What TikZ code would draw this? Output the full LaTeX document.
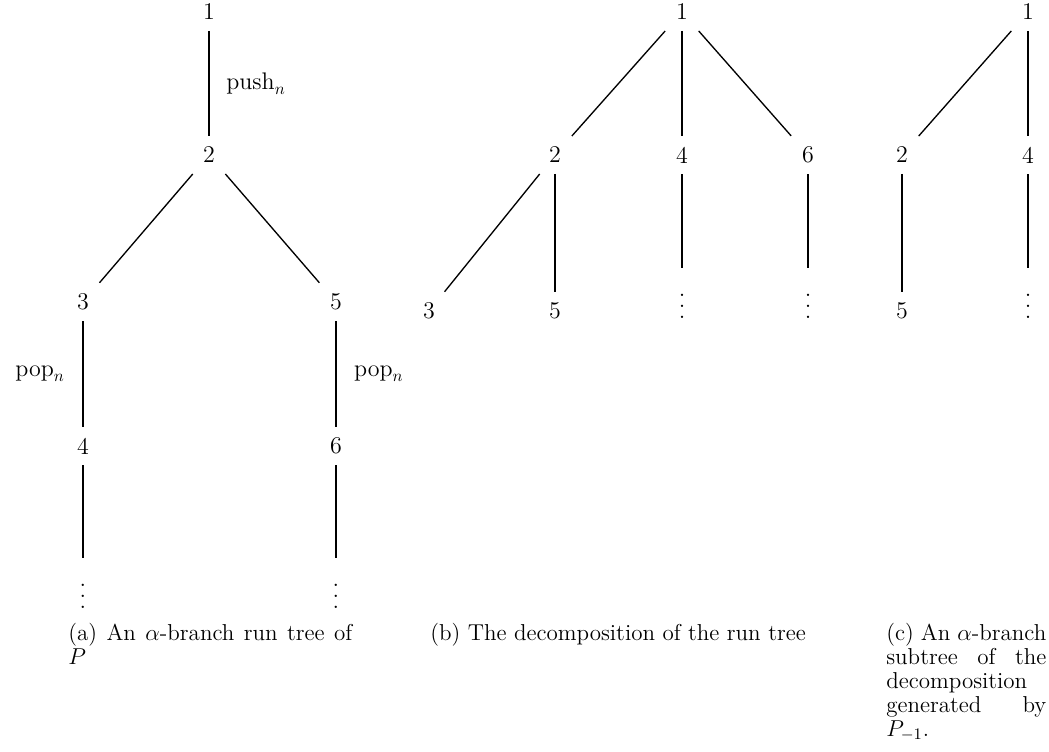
\RequirePackage{fix-cm}
\documentclass[tikz,border=0pt]{standalone}
\newcommand{\myvd}{\vbox{\baselineskip=6.6pt\lineskiplimit=0pt\kern9pt\hbox{.}\hbox{.}\hbox{.}}}
\hbadness=10000
\hfuzz=5pt
\begin{document}
\begin{tikzpicture}[x=0.6pt,y=-0.6pt,
  tn/.style={inner sep=6.6pt, outer sep=0pt, font=\fontsize{14.4}{17}\selectfont},
  dn/.style={tn, anchor=north},
  lab/.style={inner sep=0pt, font=\fontsize{14.4}{17}\selectfont},
  captext/.style={inner sep=0pt, anchor=base west, font=\fontsize{13.8}{14.4}\selectfont},
  ed/.style={line width=0.8pt}]
\useasboundingbox (0,0) rectangle (1049,751);
% (a)
\node[tn] (a1) at (209,12) {1};
\node[tn] (a2) at (209,155) {2};
\node[tn] (a3) at (83,302) {3};
\node[tn] (a5) at (336,302) {5};
\node[tn] (a4) at (83,446) {4};
\node[tn] (a6) at (336,446) {6};
\node[dn] (ad1) at (83,558) {\myvd};
\node[dn] (ad2) at (336,558) {\myvd};
\draw[ed] (a1) -- (a2) node[midway, lab, anchor=west, xshift=10pt] {$\mathrm{push}_n$};
\draw[ed] (a2) -- (a3);
\draw[ed] (a2) -- (a5);
\draw[ed] (a3) -- (a4) node[midway, lab, anchor=east, xshift=-10.5pt] {$\mathrm{pop}_n$};
\draw[ed] (a5) -- (a6) node[midway, lab, anchor=west, xshift=10.5pt] {$\mathrm{pop}_n$};
\draw[ed] (a4) -- (ad1);
\draw[ed] (a6) -- (ad2);
% (b)
\node[tn] (b1) at (682,12) {1};
\node[tn] (b2) at (555,155) {2};
\node[tn] (b4) at (682,155) {4};
\node[tn] (b6) at (808,155) {6};
\node[tn] (b3) at (429,311) {3};
\node[tn] (b5) at (555,311) {5};
\node[dn] (bd1) at (682,268) {\myvd};
\node[dn] (bd2) at (808,268) {\myvd};
\draw[ed] (b1) -- (b2);
\draw[ed] (b1) -- (b4);
\draw[ed] (b1) -- (b6);
\draw[ed] (b2) -- (b3);
\draw[ed] (b2) -- (b5);
\draw[ed] (b4) -- (bd1);
\draw[ed] (b6) -- (bd2);
% (c)
\node[tn] (c1) at (1028,12) {1};
\node[tn] (c2) at (902,155) {2};
\node[tn] (c4) at (1028,155) {4};
\node[tn] (c5) at (902,311) {5};
\node[dn] (cd1) at (1028,268) {\myvd};
\draw[ed] (c1) -- (c2);
\draw[ed] (c1) -- (c4);
\draw[ed] (c2) -- (c5);
\draw[ed] (c4) -- (cd1);
% captions
\node[captext, align=justify, text width=170.4pt] (capa) at (68,640) {\hyphenpenalty=10000\exhyphenpenalty=10000 (a) An $\alpha$-branch run tree of\linebreak $P$};
\node[captext] (capb) at (430,640) {(b) The decomposition of the run tree};
\node[captext, align=justify, text width=96pt] (capc) at (886,640) {\hyphenpenalty=10000\exhyphenpenalty=10000 (c) An $\alpha$-branch\linebreak subtree of the\linebreak decomposition\linebreak generated by\linebreak $P_{-1}$.};
\end{tikzpicture}
\end{document}
